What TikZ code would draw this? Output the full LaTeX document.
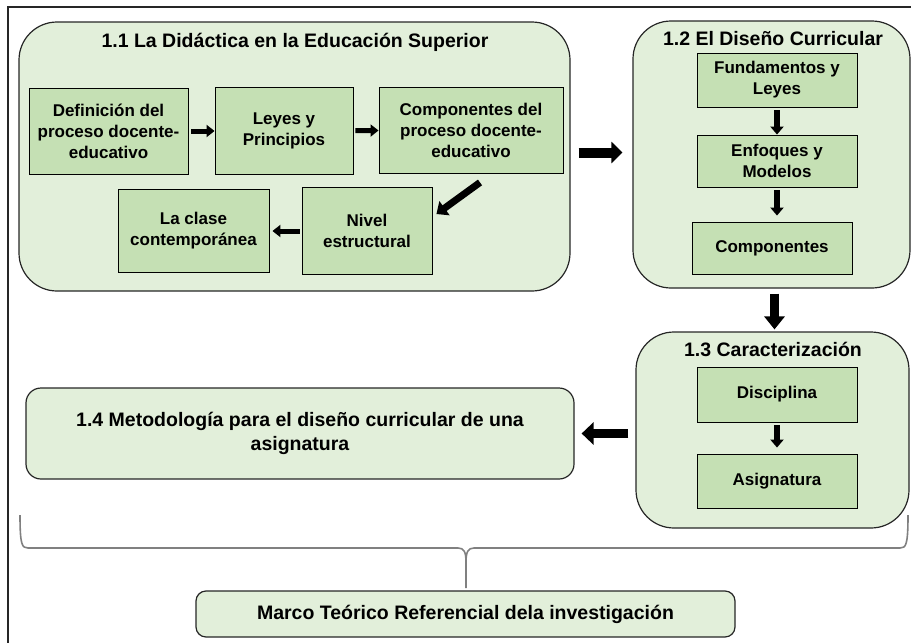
\documentclass[tikz,border=0pt]{standalone}
\usepackage{fontspec}
\setmainfont{Liberation Sans}
\usepackage{tikz}
\usetikzlibrary{arrows.meta, positioning}
\definecolor{verdeclaro}{HTML}{E2EFDA}
\definecolor{verdecaja}{HTML}{C5E0B4}
\definecolor{grisllave}{HTML}{808080}
\newcommand{\fuentetitulo}{\fontsize{19.5}{24}\selectfont\bfseries}
\newcommand{\fuentecaja}{\fontsize{17}{21}\selectfont\bfseries}
\tikzset{
	grupo/.style={
		draw=black!85,
		fill=verdeclaro,
		rounded corners=38pt,
		line width=1.2pt,
		inner sep=0pt
	},
	caja/.style={
		draw,
		fill=verdecaja,
		line width=.9pt,
		align=center,
		inner sep=2pt,
		font=\fuentecaja
	},
	titulo/.style={
		font=\fuentetitulo,
		align=center,
		inner sep=0pt
	},
	flechita/.style={
		line width=5pt,
		-{Triangle[length=8pt, width=12pt]}
	},
	flecha/.style={
		line width=6pt,
		-{Triangle[length=8pt, width=13pt]}
	},
	flechagrande/.style={
		line width=10pt,
		-{Triangle[length=11pt, width=21pt]}
	},
	llave/.style={
		draw=grisllave,
		line width=1.6pt
	}
}

\begin{document}
\begin{tikzpicture}[x=1pt, y=-1pt]
	\useasboundingbox (0,0) rectangle (911,643);
	\draw[line width=1.2pt, draw=black!85] (8,7) rectangle (930,660);

	% llave inferior
	\draw[llave] (20,515) .. controls (20,545) and (22,548) .. (28,548) -- (458,548)
		.. controls (464,548) and (466,552) .. (466,562) -- (466,588);
	\draw[llave] (466,562) .. controls (466,552) and (468,548) .. (474,548) -- (900,548)
		.. controls (906,548) and (908,545) .. (908,515);

	% 1.1
	\node[grupo, minimum width=551pt, minimum height=269pt] at (294.5,156.5) (g1) {};
	\node[titulo] at (295,42) (t1) {1.1 La Didáctica en la Educación Superior};
	\node[caja, minimum width=159pt, minimum height=86pt] at (108.5,131) (def) {Definición del\\proceso docente-\\educativo};
	\node[caja, minimum width=138pt, minimum height=87pt] at (284,131) (leyes) {Leyes y\\Principios};
	\node[caja, minimum width=184pt, minimum height=86pt] at (471,130) (comp) {Componentes del\\proceso docente-\\educativo};
	\node[caja, minimum width=130pt, minimum height=87pt] at (367,231) (nivel) {Nivel\\estructural};
	\node[caja, minimum width=151pt, minimum height=83pt] at (193.5,231) (clase) {La clase\\contemporánea};
	\draw[flechita, shorten <=3pt] (def) to (leyes);
	\draw[flechita, shorten <=2pt] (leyes) to (comp);
	\draw[flecha, line width=7pt, -{Triangle[length=10pt, width=17pt]}] ([xshift=9pt, yshift=-9pt]comp.south) to ([xshift=4pt, yshift=-27pt]nivel.north east);
	\draw[flechita, shorten <=2pt, shorten >=3pt] (nivel) to (clase);

	% 1.2
	\node[grupo, minimum width=277pt, minimum height=267pt] at (771.5,154.5) (g2) {};
	\node[titulo] at (773,39) (t2) {1.2 El Diseño Curricular};
	\node[caja, minimum width=160pt, minimum height=54pt] at (777,80) (fund) {Fundamentos y\\Leyes};
	\node[caja, minimum width=160pt, minimum height=52pt] at (777,161) (enf) {Enfoques y\\Modelos};
	\node[caja, minimum width=160pt, minimum height=52pt] at (772,248) (compo) {Componentes};
	\draw[flecha, shorten <=3pt] (fund) to (enf);
	\draw[flecha, shorten <=3pt, shorten >=6pt] (enf) to (enf.south |- compo.north);
	\draw[flechagrande, shorten <=8pt, shorten >=10pt] ([yshift=2pt]g2.west -| g1.east) to ([yshift=2pt]g2.west);

	% 1.3
	\node[grupo, minimum width=273pt, minimum height=196pt] at (772.5,430) (g3) {};
	\node[titulo] at (773,349) (t3) {1.3 Caracterización};
	\node[caja, minimum width=160pt, minimum height=55pt] at (777,394.5) (disc) {Disciplina};
	\node[caja, minimum width=160pt, minimum height=54pt] at (777,481) (asig) {Asignatura};
	\draw[flecha, shorten <=3pt, shorten >=6pt] (disc) to (asig);
	\draw[flechagrande, line width=9pt, -{Triangle[length=13pt, width=20pt]}, shorten <=5pt, shorten >=2pt] ([xshift=3pt]g2.south) to ([xshift=2pt]g3.north);

	% 1.4
	\node[grupo, rounded corners=15pt, minimum width=548pt, minimum height=91pt, titulo] at (300,433.5) (g4) {1.4 Metodología para el diseño curricular de una\\asignatura};
	\draw[flechagrande, line width=9pt, -{Triangle[length=12pt, width=22pt]}, shorten <=7pt, shorten >=7pt] (g4.east -| g3.west) to (g4.east);

	% marco
	\node[grupo, rounded corners=10pt, minimum width=539pt, minimum height=46pt, titulo] at (465.5,614) (marco) {Marco Teórico Referencial dela investigación};
\end{tikzpicture}
\end{document}
